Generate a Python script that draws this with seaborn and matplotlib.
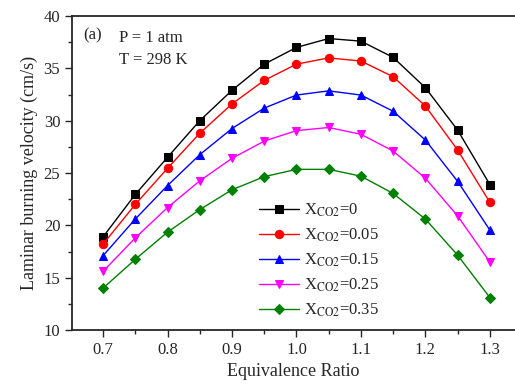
import matplotlib
matplotlib.use("Agg")
import matplotlib.pyplot as plt
from matplotlib.ticker import MultipleLocator
import seaborn as sns
import pandas as pd

phi = [0.70, 0.75, 0.80, 0.85, 0.90, 0.95, 1.00, 1.05, 1.10, 1.15, 1.20, 1.25, 1.30]
s_0 = [18.9, 22.95, 26.5, 30.0, 32.9, 35.4, 37.0, 37.85, 37.6, 36.05, 33.15, 29.1, 23.9]
s_005 = [18.2, 22.0, 25.45, 28.8, 31.6, 33.85, 35.4, 36.0, 35.7, 34.2, 31.4, 27.2, 22.2]
s_015 = [17.1, 20.6, 23.8, 26.75, 29.25, 31.2, 32.45, 32.85, 32.45, 30.9, 28.15, 24.2, 19.55]
s_025 = [15.6, 18.8, 21.7, 24.25, 26.4, 28.05, 29.05, 29.35, 28.7, 27.1, 24.5, 20.9, 16.5]
s_035 = [14.0, 16.75, 19.35, 21.5, 23.4, 24.65, 25.35, 25.35, 24.7, 23.05, 20.6, 17.15, 13.1]

labels = [r"X$_{\mathrm{CO2}}$=0", r"X$_{\mathrm{CO2}}$=0.05", r"X$_{\mathrm{CO2}}$=0.15",
          r"X$_{\mathrm{CO2}}$=0.25", r"X$_{\mathrm{CO2}}$=0.35"]
series = [s_0, s_005, s_015, s_025, s_035]
colors = ["black", "red", "blue", "magenta", "green"]
markers = ["s", "o", "^", "v", "D"]

rows = []
for lab, vals in zip(labels, series):
    for x, y in zip(phi, vals):
        rows.append({"phi": x, "S": y, "case": lab})
df = pd.DataFrame(rows)

sns.set_style("ticks")
plt.rcParams["font.family"] = ["Liberation Serif", "DejaVu Serif"]
plt.rcParams["mathtext.fontset"] = "stix"

fig = plt.figure(figsize=(5.15, 3.91), dpi=100)
ax = fig.add_axes([0.14, 0.156, 0.86, 0.803])

for lab, c, m in zip(labels, colors, markers):
    sub = df[df["case"] == lab]
    sns.lineplot(data=sub, x="phi", y="S", ax=ax, color=c, marker=m,
                 markersize=6 if m != "D" else 5, markeredgecolor=c,
                 linewidth=1.0, label=lab)

ax.set_xlim(0.652, 1.339)
ax.set_ylim(10, 40)
ax.xaxis.set_major_locator(MultipleLocator(0.1))
ax.xaxis.set_minor_locator(MultipleLocator(0.05))
ax.yaxis.set_major_locator(MultipleLocator(5))
ax.yaxis.set_minor_locator(MultipleLocator(2.5))
ax.tick_params(which="major", direction="out", length=5, width=1, labelsize=12)
ax.tick_params(which="minor", direction="out", length=3, width=1)
ax.set_xticklabels([f"{v:.1f}" for v in ax.get_xticks()])
for s in ax.spines.values():
    s.set_linewidth(1.3)
    s.set_visible(True)
ax.spines["right"].set_visible(False)

ax.set_xlabel("Equivalence Ratio", fontsize=13)
ax.set_ylabel("Laminar burning velocity (cm/s)", fontsize=13)

ax.text(0.025, 0.965, "(a)", transform=ax.transAxes, fontsize=12, va="top")
ax.text(0.105, 0.955, "P = 1 atm", transform=ax.transAxes, fontsize=12, va="top")
ax.text(0.105, 0.885, "T = 298 K", transform=ax.transAxes, fontsize=12, va="top")

ax.legend(loc="upper left", bbox_to_anchor=(0.395, 0.445), frameon=False, fontsize=12,
          handlelength=2.4, labelspacing=0.45, handletextpad=0.3, borderpad=0.2)

fig.savefig("out.png", dpi=100)
